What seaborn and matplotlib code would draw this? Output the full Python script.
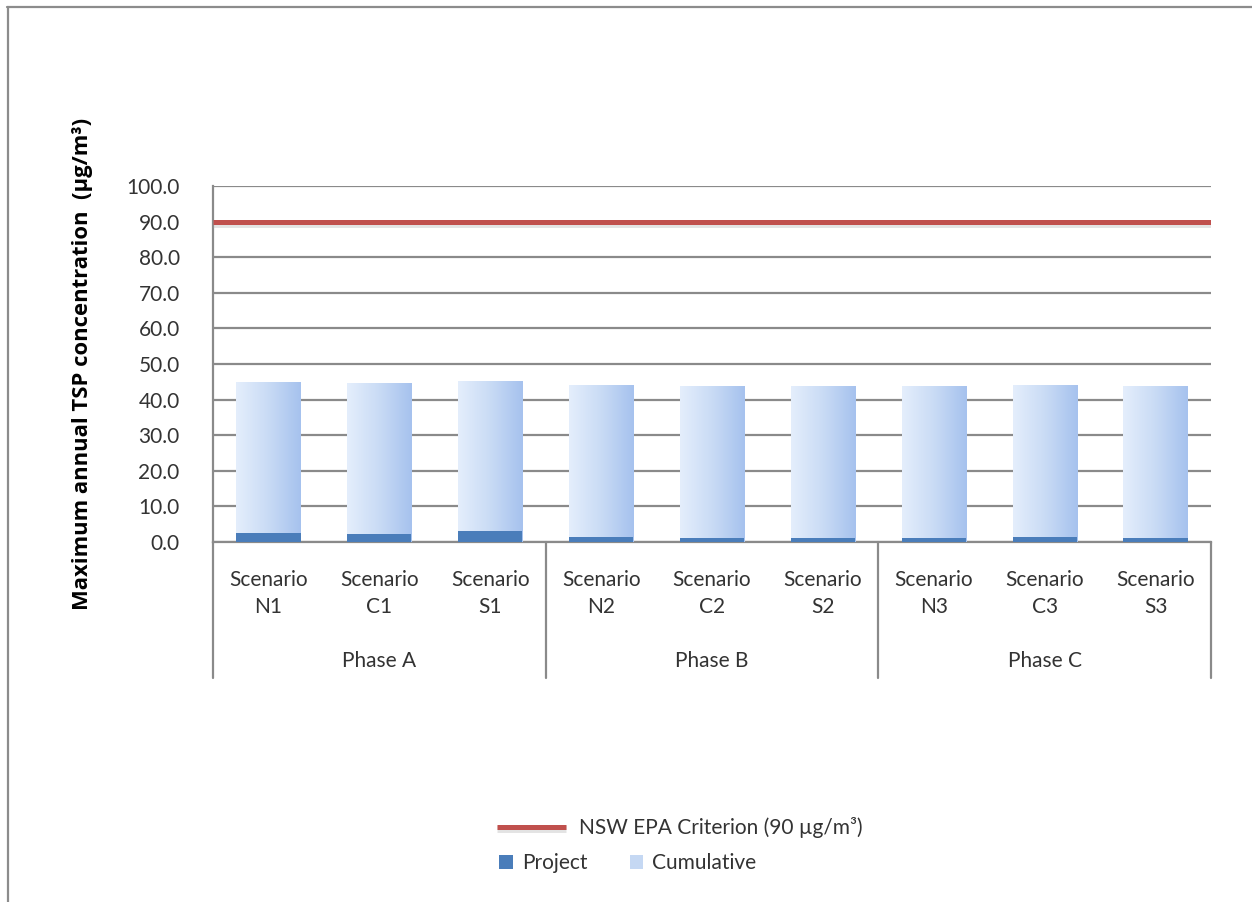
import numpy as np
import pandas as pd
import seaborn as sns
import matplotlib.pyplot as plt
import matplotlib.patheffects as pe
from matplotlib.colors import LinearSegmentedColormap
from matplotlib.lines import Line2D

# Dane
scenarios = ['N1', 'C1', 'S1', 'N2', 'C2', 'S2', 'N3', 'C3', 'S3']
phases = ['Phase A', 'Phase B', 'Phase C']
project = [2.6, 2.2, 3.0, 1.5, 1.2, 1.2, 1.2, 1.4, 1.2]
cumulative_total = [45.0, 44.6, 45.3, 44.1, 43.8, 43.8, 43.8, 44.0, 43.8]
criterion = 90
y_ticks = [0, 10, 20, 30, 40, 50, 60, 70, 80, 90, 100]

df = pd.DataFrame({'scenario': scenarios, 'project': project, 'total': cumulative_total})

sns.set_theme(style='white')
plt.rcParams['font.family'] = ['Lato', 'DejaVu Sans']

text_col = '#333333'
grid_col = '#8a8a8a'
fs = 15

fig = plt.figure(figsize=(12.52, 9.02), dpi=100)
ax = fig.add_axes([213 / 1252, 1 - 542 / 902, 998 / 1252, 356 / 902])

# Slupki: najpierw suma (cumulative), potem projekt na wierzchu
sns.barplot(data=df, x='scenario', y='total', color='#C5D8F3', saturation=1,
            width=0.58, errorbar=None, ax=ax, label='Cumulative', zorder=2,
            edgecolor='none', linewidth=0)
n_cum = len(ax.patches)
sns.barplot(data=df, x='scenario', y='project', color='#4A7DBA', saturation=1,
            width=0.58, errorbar=None, ax=ax, label='Project', zorder=4,
            edgecolor='none', linewidth=0)

# Gradient na slupkach cumulative
cmap = LinearSegmentedColormap.from_list('cum', ['#E4EEFC', '#C9DBF5', '#A6C2EE'])
grad = np.linspace(0, 1, 64).reshape(1, -1)
for bar in ax.patches[:n_cum]:
    x0, w = bar.get_x(), bar.get_width()
    y0, h = bar.get_y(), bar.get_height()
    im = ax.imshow(grad, cmap=cmap, extent=[x0, x0 + w, y0, y0 + h],
                   aspect='auto', zorder=3, interpolation='bicubic')
    im.set_clip_path(bar)

# Linia kryterium
crit_line = ax.axhline(criterion, color='#C0504D', lw=3.6, zorder=5,
                       label='NSW EPA Criterion (90 µg/m³)', solid_capstyle='butt',
                       path_effects=[pe.SimpleLineShadow(offset=(0, -1.5), shadow_color='#b0b0b0',
                                                         alpha=0.35, linewidth=5),
                                     pe.Normal()])

ax.set_xlim(-0.5, len(scenarios) - 0.5)
ax.set_ylim(0, 100)
ax.set_yticks(y_ticks)
ax.set_yticklabels([f'{v:.1f}' for v in y_ticks], fontsize=fs, color=text_col)
ax.set_xticks(range(len(scenarios)))
ax.set_xticklabels([f'Scenario\n{s}' for s in scenarios], fontsize=fs, color=text_col,
                   linespacing=1.45)
ax.tick_params(axis='both', length=0)
ax.tick_params(axis='y', pad=24)
ax.tick_params(axis='x', pad=20)
ax.set_xlabel('')
ax.set_ylabel('Maximum annual TSP concentration  (µg/m³)', fontsize=15.8,
              fontweight='bold', color='black', labelpad=24,
              family=['Open Sans', 'DejaVu Sans'])

ax.yaxis.grid(True, color=grid_col, lw=1.6)
ax.set_axisbelow(True)
for side in ['top', 'right']:
    ax.spines[side].set_visible(False)
for side in ['left', 'bottom']:
    ax.spines[side].set_color(grid_col)
    ax.spines[side].set_linewidth(1.6)

# Poziom faz pod osia X
trans = ax.get_xaxis_transform()
sep_depth = -(678 - 542) / 356
n_per = len(scenarios) // len(phases)
for k in range(len(phases) + 1):
    xs = k * n_per - 0.5
    ax.plot([xs, xs], [0, sep_depth], transform=trans, color=grid_col, lw=1.6,
            clip_on=False)
for k, ph in enumerate(phases):
    ax.text(k * n_per + (n_per - 1) / 2, -(661 - 542) / 356, ph, transform=trans,
            ha='center', va='center', fontsize=fs, color=text_col)

# Legendy
handles, labels = ax.get_legend_handles_labels()
hmap = dict(zip(labels, handles))
if ax.get_legend() is not None:
    ax.get_legend().remove()
leg1 = fig.legend([crit_line], ['NSW EPA Criterion (90 µg/m³)'], loc='center left',
                  bbox_to_anchor=(487 / 1252, 1 - 828 / 902), frameon=False,
                  fontsize=fs, handlelength=3.3, handletextpad=0.6, borderpad=0,
                  labelcolor=text_col)
leg2 = fig.legend([hmap['Project'], hmap['Cumulative']], ['Project', 'Cumulative'],
                  loc='center left', bbox_to_anchor=(489 / 1252, 1 - 863 / 902),
                  frameon=False, fontsize=fs, ncol=2, handlelength=0.65,
                  handleheight=0.65, handletextpad=0.45, columnspacing=2.0,
                  borderpad=0, labelcolor=text_col)

# Ramka wykresu (lewa i gorna krawedz)
fig.add_artist(Line2D([7.5 / 1252, 7.5 / 1252], [0, 1 - 6.5 / 902], color='#8c8c8c', lw=1.6))
fig.add_artist(Line2D([7 / 1252, 1], [1 - 6.5 / 902, 1 - 6.5 / 902], color='#8c8c8c', lw=1.6))

fig.savefig('out.png', dpi=100, facecolor='white')
plt.close(fig)
